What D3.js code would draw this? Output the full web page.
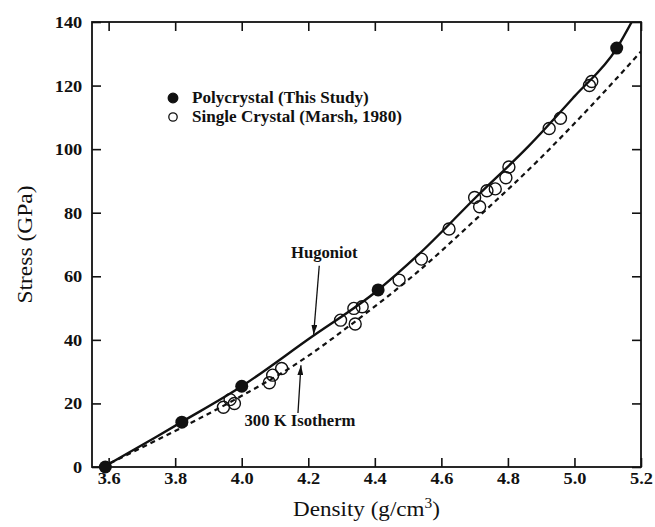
<!DOCTYPE html>
<html>
<head>
<meta charset="utf-8">
<script src="https://cdn.jsdelivr.net/npm/d3@7"></script>
<style>
  html, body { margin: 0; padding: 0; background: #fff; }
  svg { display: block; font-family: "Liberation Serif", "Times New Roman", serif; }
  .tick-lbl { font-size: 17px; font-weight: bold; fill: #111; }
  .note { font-size: 16px; font-weight: bold; fill: #111; }
  .axis-title { font-size: 21px; fill: #111; }
</style>
</head>
<body>
<svg id="chart" width="655" height="527"></svg>
<script>
"use strict";

// ── Data (density g/cm3, stress GPa) ──
const polycrystal = [
  [3.59, 0], [3.82, 14.1], [4.0, 25.4], [4.41, 55.7], [5.127, 131.8]
];

const singleCrystal = [
  [3.945, 18.8], [3.965, 21.2], [3.978, 20.0], [4.083, 26.5], [4.093, 28.9],
  [4.12, 31.0], [4.297, 46.2], [4.337, 49.9], [4.341, 45.0], [4.362, 50.4],
  [4.473, 58.8], [4.54, 65.4], [4.623, 74.9], [4.70, 84.8], [4.715, 81.9],
  [4.737, 86.9], [4.762, 87.5], [4.794, 91.0], [4.803, 94.4], [4.924, 106.5],
  [4.958, 109.7], [5.045, 120.0], [5.052, 121.3]
];

const hugoniot = [
  [3.585, 0], [3.74, 9.3], [3.82, 14.2], [4.0, 25.4], [4.2, 40.2], [4.41, 55.7],
  [4.53, 66.7], [4.71, 85.5], [4.86, 100.7], [5.0, 116.6], [5.127, 131.7], [5.172, 140]
];

const isotherm = [
  [3.58, 0], [3.74, 8.2], [4.0, 22.4], [4.15, 31.5], [4.35, 46.5], [4.52, 60.6],
  [4.7, 77.6], [4.9, 97.4], [5.05, 113.6], [5.2, 130.7]
];

const xTicks = [3.6, 3.8, 4.0, 4.2, 4.4, 4.6, 4.8, 5.0, 5.2];
const yTicks = [0, 20, 40, 60, 80, 100, 120, 140];

const legendItems = [
  { label: "Polycrystal (This Study)", filled: true },
  { label: "Single Crystal (Marsh, 1980)", filled: false }
];

// annotations: label position and arrow (tail -> head) in data units
const notes = [
  { text: "Hugoniot", at: [4.248, 65.8], tail: [4.233, 63.3], head: [4.216, 41.6] },
  { text: "300 K Isotherm", at: [4.175, 13.0], tail: [4.169, 17.0], head: [4.178, 32.0] }
];

// ── Layout ──
const svg = d3.select("#chart");
const plot = { left: 92, right: 641, top: 22, bottom: 467 };

const x = d3.scaleLinear().domain([3.55, 5.2]).range([plot.left, plot.right]);
const y = d3.scaleLinear().domain([0, 140]).range([plot.bottom, plot.top]);

svg.append("defs").append("marker")
  .attr("id", "arrow")
  .attr("viewBox", "0 0 10 6")
  .attr("refX", 10).attr("refY", 3)
  .attr("markerWidth", 10).attr("markerHeight", 6)
  .attr("markerUnits", "userSpaceOnUse")
  .attr("orient", "auto")
  .append("path")
  .attr("d", "M0,0 L10,3 L0,6 Z")
  .attr("fill", "#111");

svg.append("clipPath").attr("id", "clip")
  .append("rect")
  .attr("x", plot.left).attr("y", plot.top)
  .attr("width", plot.right - plot.left).attr("height", plot.bottom - plot.top);

// ── Axes (inward ticks on all four sides) ──
const tickLen = 9;
const fmtX = d3.format(".1f");

const bottomAxis = svg.append("g")
  .attr("transform", `translate(0,${plot.bottom})`)
  .call(d3.axisBottom(x).tickValues(xTicks).tickSize(-tickLen).tickPadding(5).tickFormat(fmtX));

const topAxis = svg.append("g")
  .attr("transform", `translate(0,${plot.top})`)
  .call(d3.axisTop(x).tickValues(xTicks).tickSize(-tickLen).tickFormat(""));

const leftAxis = svg.append("g")
  .attr("transform", `translate(${plot.left},0)`)
  .call(d3.axisLeft(y).tickValues(yTicks).tickSize(-tickLen).tickPadding(9));

const rightAxis = svg.append("g")
  .attr("transform", `translate(${plot.right},0)`)
  .call(d3.axisRight(y).tickValues(yTicks).tickSize(-tickLen).tickFormat(""));

[bottomAxis, topAxis, leftAxis, rightAxis].forEach(a => {
  a.attr("font-family", null).attr("font-size", null);
  a.select(".domain").remove();
  a.selectAll(".tick line").attr("stroke", "#111").attr("stroke-width", 1.6);
  a.selectAll(".tick text").attr("class", "tick-lbl");
});
bottomAxis.selectAll(".tick text").attr("transform", "scale(1.08,1)");
leftAxis.selectAll(".tick text").attr("transform", "scale(1.08,1)");

// frame
svg.append("rect")
  .attr("x", plot.left).attr("y", plot.top)
  .attr("width", plot.right - plot.left).attr("height", plot.bottom - plot.top)
  .attr("fill", "none").attr("stroke", "#111").attr("stroke-width", 1.8);

// ── Curves ──
const line = d3.line()
  .x(d => x(d[0])).y(d => y(d[1]))
  .curve(d3.curveMonotoneX);

const curves = svg.append("g").attr("clip-path", "url(#clip)");

curves.append("path")
  .datum(isotherm)
  .attr("d", line)
  .attr("fill", "none").attr("stroke", "#111")
  .attr("stroke-width", 2.2).attr("stroke-dasharray", "5,4");

curves.append("path")
  .datum(hugoniot)
  .attr("d", line)
  .attr("fill", "none").attr("stroke", "#111")
  .attr("stroke-width", 2.4);

// ── Points ──
svg.append("g").selectAll("circle")
  .data(singleCrystal)
  .join("circle")
  .attr("cx", d => x(d[0])).attr("cy", d => y(d[1]))
  .attr("r", 6)
  .attr("fill", "none").attr("stroke", "#111").attr("stroke-width", 1.4);

svg.append("g").selectAll("circle")
  .data(polycrystal)
  .join("circle")
  .attr("cx", d => x(d[0])).attr("cy", d => y(d[1]))
  .attr("r", 6.5)
  .attr("fill", "#111");

// ── Legend ──
const legend = svg.append("g").attr("transform", "translate(173,98)");
legendItems.forEach((item, i) => {
  const row = legend.append("g").attr("transform", `translate(0,${i * 19})`);
  row.append("circle")
    .attr("r", item.filled ? 4.8 : 4.2)
    .attr("fill", item.filled ? "#111" : "none")
    .attr("stroke", "#111").attr("stroke-width", 1.3);
  row.append("text")
    .attr("class", "note")
    .attr("transform", "translate(19,5) scale(1.07,1)")
    .text(item.label);
});

// ── Annotations ──
notes.forEach(n => {
  svg.append("line")
    .attr("x1", x(n.tail[0])).attr("y1", y(n.tail[1]))
    .attr("x2", x(n.head[0])).attr("y2", y(n.head[1]))
    .attr("stroke", "#111").attr("stroke-width", 1.3)
    .attr("marker-end", "url(#arrow)");
  svg.append("text")
    .attr("class", "note")
    .attr("text-anchor", "middle")
    .attr("transform", `translate(${x(n.at[0])},${y(n.at[1])}) scale(1.04,1)`)
    .text(n.text);
});

// ── Axis titles ──
const xTitle = svg.append("text")
  .attr("class", "axis-title")
  .attr("text-anchor", "middle")
  .attr("transform", `translate(${(plot.left + plot.right) / 2},516) scale(1.1,1)`);
xTitle.append("tspan").text("Density (g/cm");
xTitle.append("tspan").attr("dy", -8).attr("font-size", 14).text("3");
xTitle.append("tspan").attr("dy", 8).text(")");

svg.append("text")
  .attr("class", "axis-title")
  .attr("text-anchor", "middle")
  .attr("transform", `translate(32,${(plot.top + plot.bottom) / 2}) rotate(-90) scale(1.12,1)`)
  .text("Stress (GPa)");
</script>
</body>
</html>
